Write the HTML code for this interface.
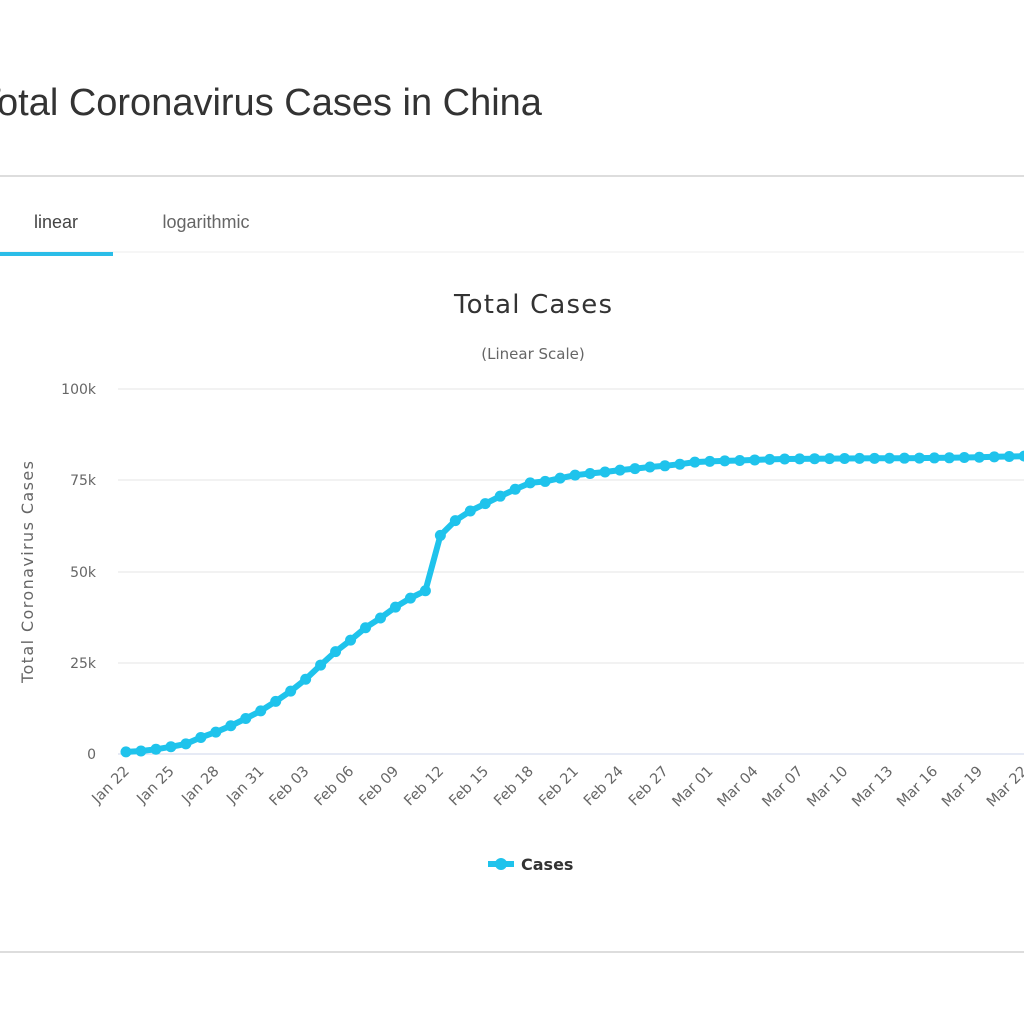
<!DOCTYPE html>
<html><head><style>
body{margin:0;width:1024px;height:1024px;overflow:hidden;background:#fff;font-family:"Liberation Sans",sans-serif;position:relative}
.t{position:absolute;left:-22px;top:82px;font-size:38px;color:#333;white-space:nowrap}
</style></head><body>
<div class="t">Total Coronavirus Cases in China</div>
<svg width="1024" height="1024" style="position:absolute;left:0;top:0" id="s">
<line x1="0" y1="176" x2="1024" y2="176" stroke="#ddd" stroke-width="2"/>
<line x1="0" y1="252" x2="1024" y2="252" stroke="#eee" stroke-width="1"/>
<rect x="0" y="252" width="113" height="4" fill="#2bbde8"/>
<text x="56" y="228" font-size="18" fill="#444" text-anchor="middle" font-family="Liberation Sans">linear</text>
<text x="206" y="228" font-size="18" fill="#666" text-anchor="middle" font-family="Liberation Sans">logarithmic</text>
<line x1="0" y1="952" x2="1024" y2="952" stroke="#ddd" stroke-width="2"/>
<text x="533" y="313" font-size="26" fill="#333" text-anchor="middle" font-family="DejaVu Sans" textLength="158">Total Cases</text>
<text x="533" y="359" font-size="15" fill="#666" text-anchor="middle" font-family="DejaVu Sans">(Linear Scale)</text>
<g stroke="#e6e6e6" stroke-width="1">
<line x1="118" y1="389" x2="1024" y2="389"/><line x1="118" y1="480" x2="1024" y2="480"/>
<line x1="118" y1="572" x2="1024" y2="572"/><line x1="118" y1="663" x2="1024" y2="663"/>
</g>
<line x1="118" y1="754" x2="1024" y2="754" stroke="#ccd6eb" stroke-width="1"/>
<g font-size="14" fill="#666" text-anchor="end" font-family="DejaVu Sans">
<text x="96" y="394">100k</text><text x="96" y="485">75k</text><text x="96" y="577">50k</text><text x="96" y="668">25k</text><text x="96" y="759">0</text>
</g>
<text transform="translate(33,572) rotate(-90)" font-size="16" fill="#666" text-anchor="middle" font-family="DejaVu Sans" textLength="222">Total Coronavirus Cases</text>
<g id="xl" font-size="14.5" fill="#666" text-anchor="end" font-family="DejaVu Sans"></g>
<polyline id="pl" fill="none" stroke="#1fc3ec" stroke-width="6" stroke-linejoin="round"/>
<g id="mk" fill="#1fc3ec"></g>
<line x1="488" y1="864" x2="514" y2="864" stroke="#1fc3ec" stroke-width="6"/>
<circle cx="501" cy="864" r="6" fill="#1fc3ec"/>
<text x="521" y="870" font-size="16" font-weight="bold" fill="#333" font-family="DejaVu Sans">Cases</text>
</svg>
<script>
var d=[571,830,1297,1985,2761,4537,5997,7736,9720,11821,14411,17238,20471,24363,28060,31211,34598,37251,40235,42708,44730,59882,63932,66576,68584,70635,72528,74279,74675,75569,76392,76846,77262,77780,78191,78630,78959,79389,79968,80174,80302,80422,80565,80710,80813,80859,80904,80924,80955,80981,81003,81021,81048,81077,81116,81151,81235,81300,81416,81498,81600,81747];
var ns="http://www.w3.org/2000/svg",pts=[],mk=document.getElementById('mk');
for(var i=0;i<d.length;i++){var x=126+i*14.97,y=754-d[i]*0.00365;pts.push(x.toFixed(1)+","+y.toFixed(1));
var c=document.createElementNS(ns,'circle');c.setAttribute('cx',x);c.setAttribute('cy',y);c.setAttribute('r',5.5);mk.appendChild(c);}
document.getElementById('pl').setAttribute('points',pts.join(' '));
var labs=["Jan 22","Jan 25","Jan 28","Jan 31","Feb 03","Feb 06","Feb 09","Feb 12","Feb 15","Feb 18","Feb 21","Feb 24","Feb 27","Mar 01","Mar 04","Mar 07","Mar 10","Mar 13","Mar 16","Mar 19","Mar 22"];
var xl=document.getElementById('xl');
labs.forEach(function(l,k){var x=130+k*3*14.97,y=772;var t=document.createElementNS(ns,'text');t.setAttribute('transform','translate('+x+','+y+') rotate(-45)');t.textContent=l;xl.appendChild(t);});
</script>
</body></html>
